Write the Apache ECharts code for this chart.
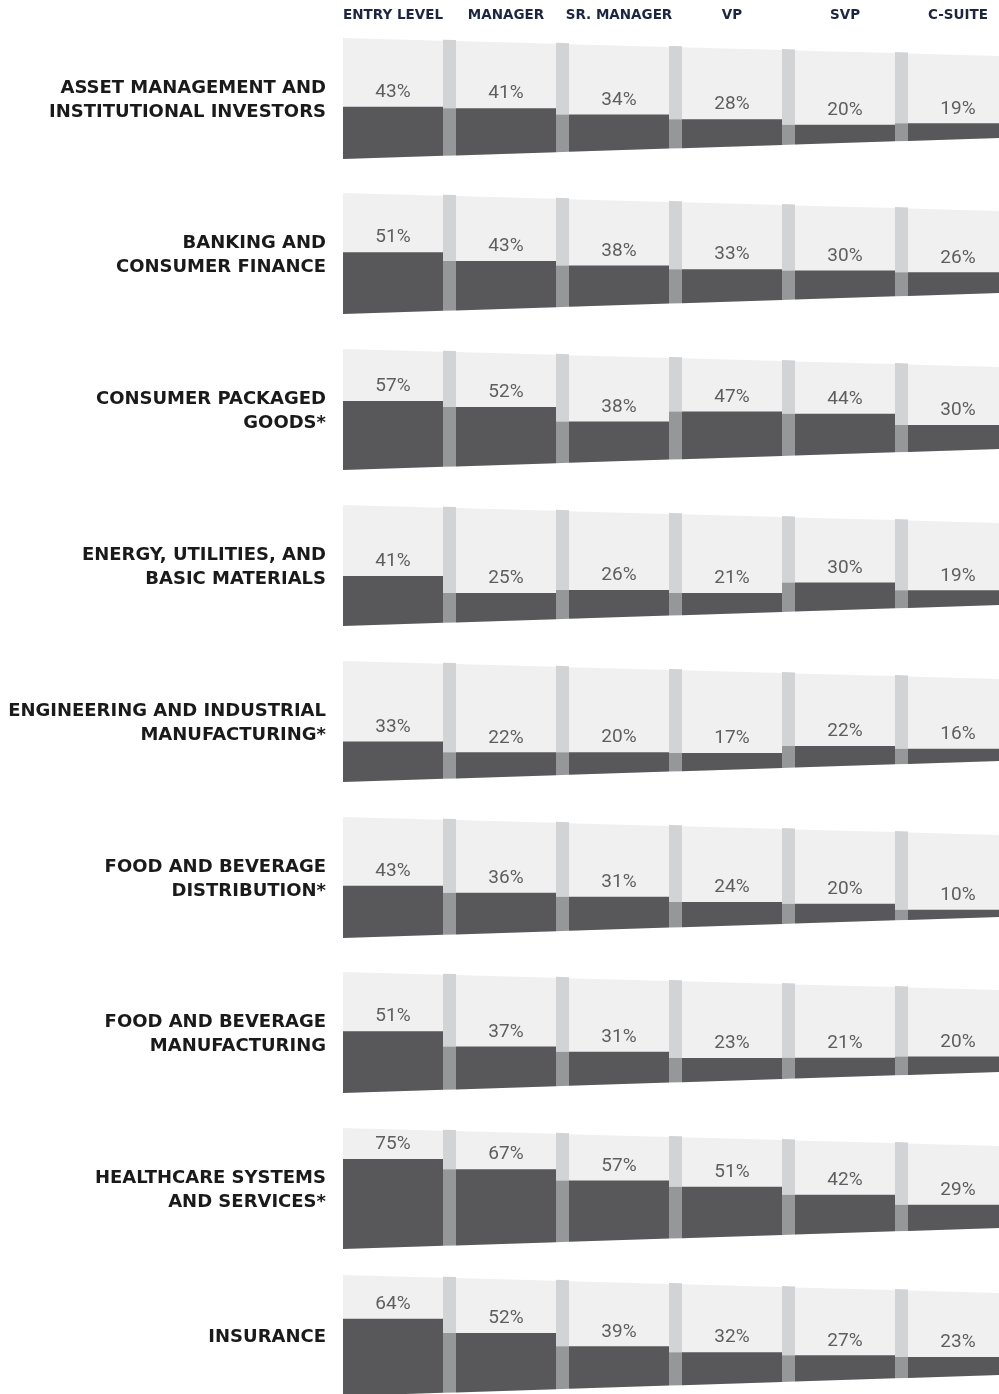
<!DOCTYPE html>
<html>
<head>
<meta charset="utf-8">
<script src="https://cdn.jsdelivr.net/npm/echarts@6/dist/echarts.min.js"></script>
<style>
  html, body { margin: 0; padding: 0; background: #ffffff; }
  #chart { width: 999px; height: 1394px; }
</style>
</head>
<body>
<div id="chart"></div>
<script>
// ---- data ----
const levels = ['ENTRY LEVEL', 'MANAGER', 'SR. MANAGER', 'VP', 'SVP', 'C-SUITE'];
const industries = [
  'ASSET MANAGEMENT AND\nINSTITUTIONAL INVESTORS',
  'BANKING AND\nCONSUMER FINANCE',
  'CONSUMER PACKAGED\nGOODS*',
  'ENERGY, UTILITIES, AND\nBASIC MATERIALS',
  'ENGINEERING AND INDUSTRIAL\nMANUFACTURING*',
  'FOOD AND BEVERAGE\nDISTRIBUTION*',
  'FOOD AND BEVERAGE\nMANUFACTURING',
  'HEALTHCARE SYSTEMS\nAND SERVICES*',
  'INSURANCE'
];
const assetManagement   = [43, 41, 34, 28, 20, 19];
const banking           = [51, 43, 38, 33, 30, 26];
const consumerPackaged  = [57, 52, 38, 47, 44, 30];
const energyUtilities   = [41, 25, 26, 21, 30, 19];
const engineering       = [33, 22, 20, 17, 22, 16];
const fbDistribution    = [43, 36, 31, 24, 20, 10];
const fbManufacturing   = [51, 37, 31, 23, 21, 20];
const healthcare        = [75, 67, 57, 51, 42, 29];
const insurance         = [64, 52, 39, 32, 27, 23];
const rowValues = [assetManagement, banking, consumerPackaged, energyUtilities,
  engineering, fbDistribution, fbManufacturing, healthcare, insurance];

// ---- layout / style ----
const rowTops = [38, 193, 349, 505, 661, 817, 972, 1128, 1275];
const GRID_LEFT = 330, BAND = 113, STRIP = 13, PANEL_H = 121;
const KT = 0.0274, KB = 0.032;   // perspective slopes of top / bottom edges
const C_FACE = '#f0f0f0', C_BAR = '#58585a', C_STRIP_HI = '#d2d3d4', C_STRIP_LO = '#969799';

function renderItem(params, api) {
  const i = api.value(0), v = api.value(1);
  const band = api.size([1, 0])[0];
  const cx = api.coord([i, 0])[0];
  const bandLeft = cx - band / 2;
  const x0 = api.coord([0, 0])[0] - band / 2 + STRIP;
  const yBot0 = api.coord([i, 0])[1];
  const yTop0 = api.coord([i, 100])[1];
  const f = (yBot0 - api.coord([i, v])[1]) / (yBot0 - yTop0);
  const top = x => yTop0 + KT * (x - x0);
  const bot = x => yBot0 - KB * (x - x0);
  const fx0 = bandLeft + STRIP, fx1 = bandLeft + band;
  const xc = (fx0 + fx1) / 2;
  const b = bot(xc) - f * (bot(xc) - top(xc));
  const children = [];
  children.push({ type: 'polygon', shape: { points: [[fx0, top(fx0)], [fx1, top(fx1)], [fx1, bot(fx1)], [fx0, bot(fx0)]] },
    style: { fill: C_FACE } });
  children.push({ type: 'polygon', shape: { points: [[fx0, b], [fx1, b], [fx1, bot(fx1)], [fx0, bot(fx0)]] },
    style: { fill: C_BAR } });
  if (i > 0) {
    const sx0 = bandLeft, sx1 = bandLeft + STRIP;
    children.push({ type: 'polygon', shape: { points: [[sx0, top(sx0) - 1], [sx1, top(sx1) - 1], [sx1, b], [sx0, b]] },
      style: { fill: C_STRIP_HI } });
    children.push({ type: 'polygon', shape: { points: [[sx0, b], [sx1, b], [sx1, bot(sx1)], [sx0, bot(sx0)]] },
      style: { fill: C_STRIP_LO } });
  }
  children.push({ type: 'text', x: xc, y: b - 5,
    style: { text: v + '%', align: 'center', verticalAlign: 'bottom',
      fontFamily: 'Roboto', fontWeight: 400, fontSize: 19, fill: '#5e5e60' } });
  return { type: 'group', children };
}

const grids = [], xAxes = [], yAxes = [], series = [], graphics = [];
rowValues.forEach((vals, r) => {
  grids.push({ left: GRID_LEFT, top: rowTops[r], width: BAND * levels.length, height: PANEL_H,
    outerBoundsMode: 'none', containLabel: false });
  xAxes.push({
    type: 'category', gridIndex: r, data: levels, position: 'top',
    show: r === 0,
    axisLine: { show: false }, axisTick: { show: false }, splitLine: { show: false },
    axisLabel: { show: r === 0, interval: 0, margin: 16, padding: [0, 0, 0, STRIP],
      color: '#1c2640', fontFamily: 'DejaVu Sans', fontWeight: 'bold', fontSize: 13.5 }
  });
  yAxes.push({ type: 'value', gridIndex: r, min: 0, max: 100, show: false });
  series.push({
    type: 'custom', xAxisIndex: r, yAxisIndex: r, clip: false,
    data: vals.map((v, i) => [i, v]),
    renderItem
  });
  graphics.push({
    type: 'text', x: 326, y: rowTops[r] + 62,
    style: { text: industries[r], align: 'right', verticalAlign: 'middle', lineHeight: 24,
      fontFamily: 'DejaVu Sans', fontWeight: 'bold', fontSize: 18, fill: '#1a1a1a' }
  });
});

const chart = echarts.init(document.getElementById('chart'), null, { renderer: 'canvas' });
chart.setOption({
  animation: false,
  backgroundColor: '#ffffff',
  grid: grids, xAxis: xAxes, yAxis: yAxes, series,
  graphic: graphics
});
</script>
</body>
</html>
